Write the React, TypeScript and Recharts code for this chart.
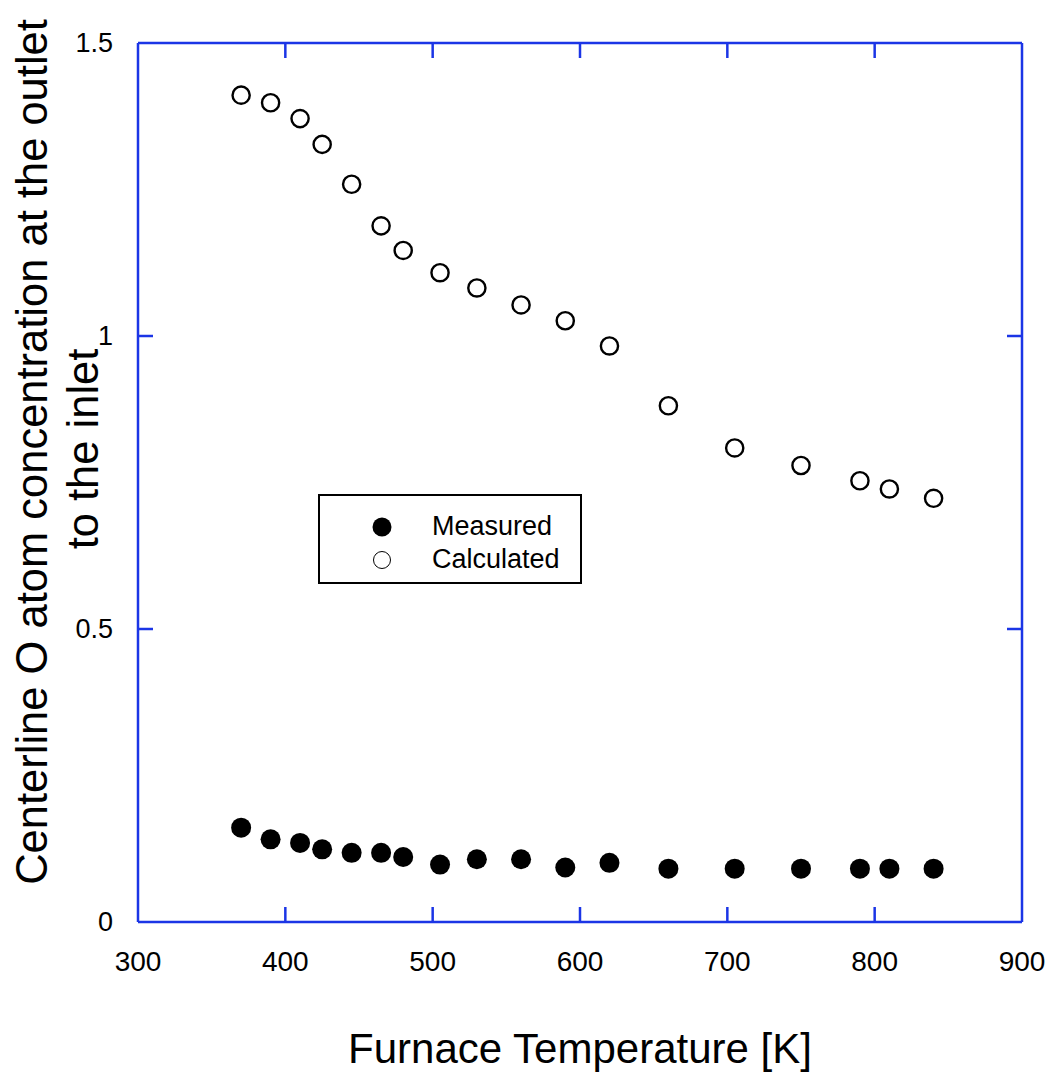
import React from "react";
import { ScatterChart, Scatter, XAxis, YAxis, Legend } from "recharts";

const temperatures = [370, 390, 410, 425, 445, 465, 480, 505, 530, 560, 590, 620, 660, 705, 750, 790, 810, 840];
const measuredValues = [0.161, 0.141, 0.135, 0.124, 0.118, 0.118, 0.111, 0.098, 0.107, 0.107, 0.093, 0.101, 0.091, 0.091, 0.091, 0.091, 0.091, 0.091];
const calculatedValues = [1.411, 1.398, 1.371, 1.327, 1.259, 1.188, 1.146, 1.108, 1.082, 1.053, 1.026, 0.983, 0.881, 0.809, 0.779, 0.753, 0.739, 0.723];
const xTicks = [300, 400, 500, 600, 700, 800, 900];
const yTicks = [0, 0.5, 1, 1.5];
const yTickLabels = ["0", "0.5", "1", "1.5"];
const seriesNames = ["Measured", "Calculated"];
const xTitle = "Furnace Temperature [K]";
const yTitleLines = ["Centerline O atom concentration at the outlet", "to the inlet"];

const measuredData = temperatures.map((t, i) => ({ x: t, y: measuredValues[i] }));
const calculatedData = temperatures.map((t, i) => ({ x: t, y: calculatedValues[i] }));

const BLUE = "#1b35e6";
const FONT = "'Liberation Sans', Arial, Helvetica, sans-serif";
const TICK_LEN = 15;

const isEdgeX = (v: number) => v === xTicks[0] || v === xTicks[xTicks.length - 1];
const isEdgeY = (v: number) => v === yTicks[0] || v === yTicks[yTicks.length - 1];

const BottomTick = (props: any) => {
  const { x, y, payload } = props;
  return (
    <g>
      {!isEdgeX(payload.value) && (
        <line x1={x} y1={y} x2={x} y2={y - TICK_LEN} stroke={BLUE} strokeWidth={2.5} />
      )}
      <text x={x} y={y + 49} textAnchor="middle" fontSize={28} fontFamily={FONT} fill="#000">
        {String(payload.value)}
      </text>
    </g>
  );
};

const TopTick = (props: any) => {
  const { x, y, payload } = props;
  if (isEdgeX(payload.value)) return <g />;
  return <line x1={x} y1={y} x2={x} y2={y + TICK_LEN} stroke={BLUE} strokeWidth={2.5} />;
};

const LeftTick = (props: any) => {
  const { x, y, payload } = props;
  const idx = yTicks.indexOf(payload.value);
  return (
    <g>
      {!isEdgeY(payload.value) && (
        <line x1={x} y1={y} x2={x + TICK_LEN} y2={y} stroke={BLUE} strokeWidth={2.5} />
      )}
      <text x={x - 25} y={y + 9} textAnchor="end" fontSize={27} fontFamily={FONT} fill="#000">
        {idx >= 0 ? yTickLabels[idx] : String(payload.value)}
      </text>
    </g>
  );
};

const RightTick = (props: any) => {
  const { x, y, payload } = props;
  if (isEdgeY(payload.value)) return <g />;
  return <line x1={x} y1={y} x2={x - TICK_LEN} y2={y} stroke={BLUE} strokeWidth={2.5} />;
};

const FilledDot = (props: any) => <circle cx={props.cx} cy={props.cy} r={10} fill="#000" />;
const OpenDot = (props: any) => (
  <circle cx={props.cx} cy={props.cy} r={8.6} fill="#fff" stroke="#000" strokeWidth={2.4} />
);

const LegendBox = () => (
  <div
    style={{
      width: 264,
      height: 90,
      border: "2px solid #000",
      background: "#fff",
      boxSizing: "border-box",
      position: "relative",
      fontFamily: FONT,
      fontSize: 27,
      color: "#000",
    }}
  >
    <svg width={40} height={89} style={{ position: "absolute", left: 42, top: 0 }}>
      <circle cx={20} cy={31} r={9.5} fill="#000" />
      <circle cx={20} cy={64} r={8.5} fill="#fff" stroke="#000" strokeWidth={1} />
    </svg>
    <div style={{ position: "absolute", left: 112, top: 14, lineHeight: "33px", whiteSpace: "nowrap" }}>
      <div>{seriesNames[0]}</div>
      <div>{seriesNames[1]}</div>
    </div>
  </div>
);

export default function App() {
  return (
    <div style={{ position: "absolute", left: 0, top: 0, width: 1047, height: 1072, background: "#fff" }}>
      <ScatterChart
        width={1047}
        height={1072}
        margin={{ top: 42, right: 24, bottom: 0, left: 0 }}
      >
        <XAxis
          xAxisId="b"
          dataKey="x"
          type="number"
          orientation="bottom"
          domain={[300, 900]}
          ticks={xTicks}
          interval={0}
          allowDataOverflow
          height={150}
          tickSize={0}
          tickMargin={0}
          tickLine={false}
          axisLine={{ stroke: BLUE, strokeWidth: 2.5 }}
          tick={<BottomTick />}
          label={{
            content: () => (
              <text x={580} y={1063} textAnchor="middle" fontSize={42} fontFamily={FONT} fill="#000">
                {xTitle}
              </text>
            ),
          }}
        />
        <XAxis
          xAxisId="t"
          dataKey="x"
          type="number"
          orientation="top"
          domain={[300, 900]}
          ticks={xTicks}
          interval={0}
          allowDataOverflow
          height={1}
          tickSize={0}
          tickMargin={0}
          tickLine={false}
          axisLine={{ stroke: BLUE, strokeWidth: 2.5 }}
          tick={<TopTick />}
        />
        <YAxis
          yAxisId="l"
          dataKey="y"
          type="number"
          orientation="left"
          domain={[0, 1.5]}
          ticks={yTicks}
          interval={0}
          allowDataOverflow
          width={138}
          tickSize={0}
          tickMargin={0}
          tickLine={false}
          axisLine={{ stroke: BLUE, strokeWidth: 2.5 }}
          tick={<LeftTick />}
          label={{
            content: () => (
              <g fontFamily={FONT} fontSize={43.5} fill="#000">
                <text x={47} y={452} transform="rotate(-90 47 452)" textAnchor="middle">
                  {yTitleLines[0]}
                </text>
                <text x={98} y={449} transform="rotate(-90 98 449)" textAnchor="middle">
                  {yTitleLines[1]}
                </text>
              </g>
            ),
          }}
        />
        <YAxis
          yAxisId="r"
          dataKey="y"
          type="number"
          orientation="right"
          domain={[0, 1.5]}
          ticks={yTicks}
          interval={0}
          allowDataOverflow
          width={1}
          tickSize={0}
          tickMargin={0}
          tickLine={false}
          axisLine={{ stroke: BLUE, strokeWidth: 2.5 }}
          tick={<RightTick />}
        />
        <Legend
          layout="vertical"
          align="center"
          verticalAlign="middle"
          content={() => <LegendBox />}
          wrapperStyle={{ position: "absolute", left: 318, top: 494, width: 264, height: 90, right: "auto", bottom: "auto" }}
        />
        <Scatter
          name={seriesNames[1]}
          data={calculatedData}
          xAxisId="b"
          yAxisId="l"
          shape={<OpenDot />}
          isAnimationActive={false}
        />
        <Scatter
          name={seriesNames[0]}
          data={measuredData}
          xAxisId="b"
          yAxisId="l"
          shape={<FilledDot />}
          isAnimationActive={false}
        />
      </ScatterChart>
    </div>
  );
}
